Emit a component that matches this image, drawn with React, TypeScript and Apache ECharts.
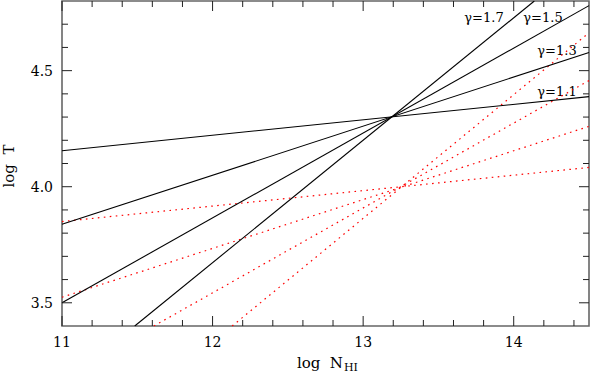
import React, { useEffect, useRef } from "react";
import * as echarts from "echarts";

// Axis ranges and ticks
const X_MIN = 11;
const X_MAX = 14.5;
const Y_MIN = 3.4;
const Y_MAX = 4.8;
const xMajorTicks = [11, 12, 13, 14];
const xMinorTicks = [11.2, 11.4, 11.6, 11.8, 12.2, 12.4, 12.6, 12.8, 13.2, 13.4, 13.6, 13.8, 14.2, 14.4];
const yMajorTicks = [3.5, 4.0, 4.5];
const yMinorTicks = [3.6, 3.7, 3.8, 3.9, 4.1, 4.2, 4.3, 4.4, 4.6, 4.7];

// Solid black relations (gamma = 1.1, 1.3, 1.5, 1.7), endpoints [logN, logT]
const gammaLabels = ["γ=1.1", "γ=1.3", "γ=1.5", "γ=1.7"];
const solid11 = [[11, 4.155], [14.5, 4.388]];
const solid13 = [[11, 3.838], [14.5, 4.578]];
const solid15 = [[11, 3.5], [14.5, 4.78]];
const solid17 = [[11.483, 3.4], [14.137, 4.8]];

// Red dotted relations
const dotted11 = [[11, 3.85], [14.5, 4.083]];
const dotted13 = [[11, 3.524], [14.5, 4.26]];
const dotted15 = [[11.61, 3.4], [14.5, 4.457]];
const dotted17 = [[12.13, 3.4], [14.5, 4.663]];

const SERIF = '"DejaVu Serif", "Liberation Serif", serif';

export default function App() {
  const ref = useRef<HTMLDivElement>(null);
  useEffect(() => {
    if (!ref.current) return;
    const chart = echarts.init(ref.current, null, { renderer: "svg" });
    const tickData = [
      ...xMajorTicks.map((v) => [v, 0]),
      ...xMinorTicks.map((v) => [v, 1]),
      ...yMajorTicks.map((v) => [v, 2]),
      ...yMinorTicks.map((v) => [v, 3]),
    ];
    const solidSeries = [solid11, solid13, solid15, solid17].map((d, i) => ({
      name: gammaLabels[i],
      type: "line",
      data: d,
      showSymbol: false,
      symbol: "none",
      clip: true,
      lineStyle: { color: "#000", width: 1.1 },
      z: 3,
    }));
    const dottedSeries = [dotted11, dotted13, dotted15, dotted17].map((d, i) => ({
      name: "dotted " + gammaLabels[i],
      type: "line",
      data: d,
      showSymbol: false,
      symbol: "none",
      clip: true,
      lineStyle: { color: "#ff0000", width: 1.2, type: [1.6, 4.4] },
      z: 2,
    }));
    chart.setOption({
      animation: false,
      backgroundColor: "#fff",
      grid: {
        left: 62,
        top: 1,
        right: 1,
        bottom: 47,
        show: true,
        borderColor: "#666",
        borderWidth: 1.6,
        backgroundColor: "transparent",
      },
      xAxis: {
        type: "value",
        min: X_MIN,
        max: X_MAX,
        interval: 1,
        axisLine: { show: false },
        axisTick: { show: false },
        splitLine: { show: false },
        axisLabel: {
          margin: 9,
          color: "#000",
          fontFamily: SERIF,
          fontSize: 14,
          formatter: (v: number) => (Math.abs(v - Math.round(v)) < 1e-6 ? String(Math.round(v)) : ""),
        },
      },
      yAxis: {
        type: "value",
        min: Y_MIN,
        max: Y_MAX,
        interval: 0.1,
        axisLine: { show: false },
        axisTick: { show: false },
        splitLine: { show: false },
        axisLabel: {
          margin: 9,
          color: "#000",
          fontFamily: SERIF,
          fontSize: 14,
          formatter: (v: number) => (Math.abs(v * 2 - Math.round(v * 2)) < 1e-6 ? v.toFixed(1) : ""),
        },
      },
      series: [
        ...dottedSeries,
        ...solidSeries,
        {
          type: "custom",
          name: "ticks",
          data: tickData,
          silent: true,
          z: 5,
          renderItem: (params: any, api: any) => {
            const v = api.value(0);
            const kind = api.value(1);
            const style = { stroke: "#222", lineWidth: 1 };
            if (kind === 0 || kind === 1) {
              const len = kind === 0 ? 10 : 6;
              const pb = api.coord([v, Y_MIN]);
              const pt = api.coord([v, Y_MAX]);
              return {
                type: "group",
                children: [
                  { type: "line", shape: { x1: pb[0], y1: pb[1], x2: pb[0], y2: pb[1] - len }, style },
                  { type: "line", shape: { x1: pt[0], y1: pt[1], x2: pt[0], y2: pt[1] + len }, style },
                ],
              };
            }
            const len = kind === 2 ? 10 : 6;
            const pl = api.coord([X_MIN, v]);
            const pr = api.coord([X_MAX, v]);
            return {
              type: "group",
              children: [
                { type: "line", shape: { x1: pl[0], y1: pl[1], x2: pl[0] + len, y2: pl[1] }, style },
                { type: "line", shape: { x1: pr[0], y1: pr[1], x2: pr[0] - len, y2: pr[1] }, style },
              ],
            };
          },
        },
      ],
      graphic: [
        { type: "text", x: 484, y: 17, style: { text: gammaLabels[3], fontFamily: SERIF, fontSize: 13, fill: "#000", align: "center", verticalAlign: "middle" } },
        { type: "text", x: 543, y: 17, style: { text: gammaLabels[2], fontFamily: SERIF, fontSize: 13, fill: "#000", align: "center", verticalAlign: "middle" } },
        { type: "text", x: 557, y: 50, style: { text: gammaLabels[1], fontFamily: SERIF, fontSize: 13, fill: "#000", align: "center", verticalAlign: "middle" } },
        { type: "text", x: 557, y: 91, style: { text: gammaLabels[0], fontFamily: SERIF, fontSize: 13, fill: "#000", align: "center", verticalAlign: "middle" } },
        { type: "text", x: 343, y: 363, style: { text: "log  N", fontFamily: SERIF, fontSize: 15, fill: "#000", align: "right", verticalAlign: "middle" } },
        { type: "text", x: 344, y: 367, style: { text: "HI", fontFamily: SERIF, fontSize: 11, fill: "#000", align: "left", verticalAlign: "middle" } },
        { type: "text", x: 9, y: 166, rotation: Math.PI / 2, style: { text: "log  T", fontFamily: SERIF, fontSize: 15, fill: "#000", align: "center", verticalAlign: "middle" } },
      ],
    });
    return () => chart.dispose();
  }, []);
  return <div ref={ref} style={{ position: "absolute", left: 0, top: 0, width: 592, height: 373 }} />;
}
